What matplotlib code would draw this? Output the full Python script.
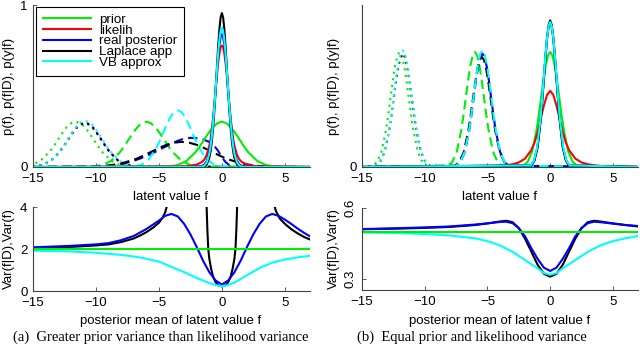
import matplotlib
matplotlib.use('Agg')
import matplotlib.pyplot as plt
import numpy as np

plt.rcParams['font.family'] = ['Liberation Sans', 'DejaVu Sans']
plt.rcParams['font.size'] = 9

nan = np.nan

# ---------------- (a) top: densities ----------------
# solid (prior centred at 0)
a_prior_x = [-15, -4.2, -3.5, -2.8, -2.1, -1.75, -1.4, -1.05, -0.7, -0.35, 0, 0.35, 0.7, 1.05, 1.4, 1.75, 2.1, 2.8, 3.5, 4.2, 7]
a_prior_y = [0, 0.003, 0.012, 0.038, 0.091, 0.128, 0.170, 0.211, 0.247, 0.271, 0.28, 0.271, 0.247, 0.211, 0.170, 0.128, 0.091, 0.038, 0.012, 0.003, 0]
a_peak_x = [-15, -3, -2.5, -2, -1.6, -1.4, -1.2, -1.0, -0.9, -0.8, -0.7, -0.6, -0.5, -0.4, -0.3, -0.2, -0.1, 0,
            0.1, 0.2, 0.3, 0.4, 0.5, 0.6, 0.7, 0.8, 0.9, 1.0, 1.2, 1.4, 1.6, 2, 2.5, 3, 7]
a_lik_y = [0, 0.003, 0.007, 0.015, 0.03, 0.045, 0.075, 0.13, 0.17, 0.23, 0.30, 0.38, 0.47, 0.56, 0.64, 0.70, 0.74, 0.75,
           0.74, 0.70, 0.64, 0.56, 0.47, 0.38, 0.30, 0.23, 0.17, 0.13, 0.075, 0.045, 0.03, 0.015, 0.007, 0.003, 0]
a_post_y = [0, 0, 0, 0.002, 0.006, 0.015, 0.036, 0.093, 0.141, 0.204, 0.283, 0.376, 0.476, 0.580, 0.675, 0.752, 0.803, 0.82,
            0.803, 0.752, 0.675, 0.580, 0.476, 0.376, 0.283, 0.204, 0.141, 0.093, 0.036, 0.015, 0.006, 0.002, 0, 0, 0]
a_lap_y = [0, 0, 0, 0, 0.001, 0.004, 0.016, 0.056, 0.096, 0.156, 0.237, 0.342, 0.467, 0.604, 0.736, 0.848, 0.923, 0.95,
           0.923, 0.848, 0.736, 0.604, 0.467, 0.342, 0.237, 0.156, 0.096, 0.056, 0.016, 0.004, 0.001, 0, 0, 0, 0]
a_vb_y = [0, 0, 0, 0, 0.002, 0.008, 0.028, 0.081, 0.126, 0.189, 0.270, 0.367, 0.476, 0.589, 0.695, 0.783, 0.840, 0.86,
          0.840, 0.783, 0.695, 0.589, 0.476, 0.367, 0.270, 0.189, 0.126, 0.081, 0.028, 0.008, 0.002, 0, 0, 0, 0]

# dashed (prior centred at -6)
a_prior2_x = [-15, -10.2, -9.5, -8.8, -8.1, -7.75, -7.4, -7.05, -6.7, -6.35, -6, -5.65, -5.3, -4.95, -4.6, -4.25, -3.9, -3.2, -2.5, -1.8, 7]
a_post2_x = [-15, -10, -9, -8, -7.5, -7, -6.5, -6, -5.5, -5, -4.5, -4, -3.5, -3, -2.5, -2, -1.5, -1, -0.6, -0.3, 0, 0.3, 0.6, 1, 7]
a_post2_y = [0, 0.003, 0.008, 0.018, 0.027, 0.038, 0.052, 0.068, 0.085, 0.105, 0.125, 0.145, 0.162, 0.175, 0.18, 0.178,
             0.17, 0.155, 0.13, 0.10, 0.06, 0.03, 0.01, 0.002, 0]
a_lap2_x = [-15, -10.4, -9.2, -8.0, -6.8, -6.2, -5.6, -5.0, -4.4, -3.8, -3.2, -2.6, -2.0, -1.4, -0.8, -0.2, 0.4, 1.6, 2.8, 4.0, 7]
a_lap2_y = [0, 0.002, 0.007, 0.021, 0.050, 0.071, 0.094, 0.117, 0.137, 0.150, 0.155, 0.150, 0.137, 0.117, 0.094, 0.071, 0.050, 0.021, 0.007, 0.002, 0]
a_vb2_x = [-15, -6.95, -6.38, -5.8, -5.23, -4.94, -4.65, -4.36, -4.08, -3.79, -3.5, -3.21, -2.92, -2.64, -2.35, -2.06, -1.77, -1.2, -0.62, -0.05, 7]
a_vb2_y = [0, 0.004, 0.015, 0.047, 0.114, 0.160, 0.212, 0.264, 0.309, 0.339, 0.35, 0.339, 0.309, 0.264, 0.212, 0.160, 0.114, 0.047, 0.015, 0.004, 0]

# dotted (prior centred at -12)
a_prior3_x = [-15.83, -15.13, -14.42, -13.72, -13.36, -13.01, -12.66, -12.31, -11.95, -11.6, -11.25, -10.89, -10.54, -10.19, -9.84, -9.48, -8.78, -8.07, -7.37, 7]
a_prior3_y = [0.003, 0.012, 0.038, 0.091, 0.128, 0.170, 0.211, 0.247, 0.271, 0.28, 0.271, 0.247, 0.211, 0.170, 0.128, 0.091, 0.038, 0.012, 0.003, 0]
a_lap3_x = [-15, -14.28, -13.6, -12.93, -12.59, -12.25, -11.91, -11.58, -11.24, -10.9, -10.56, -10.22, -9.89, -9.55, -9.21, -8.87, -8.2, -7.52, -6.85, 7]
a_lap3_y = [0.003, 0.012, 0.036, 0.088, 0.124, 0.164, 0.204, 0.238, 0.262, 0.27, 0.262, 0.238, 0.204, 0.164, 0.124, 0.088, 0.036, 0.012, 0.003, 0]
a_post3_y = [0.003, 0.012, 0.037, 0.089, 0.126, 0.167, 0.208, 0.243, 0.266, 0.275, 0.266, 0.243, 0.208, 0.167, 0.126, 0.089, 0.037, 0.012, 0.003, 0]
a_vb3_x = [-15, -14.23, -13.55, -12.88, -12.54, -12.2, -11.86, -11.53, -11.19, -10.85, -10.51, -10.17, -9.84, -9.5, -9.16, -8.82, -8.15, -7.47, -6.8, 7]
a_vb3_y = [0.003, 0.013, 0.038, 0.093, 0.131, 0.173, 0.215, 0.251, 0.276, 0.285, 0.276, 0.251, 0.215, 0.173, 0.131, 0.093, 0.038, 0.013, 0.003, 0]

# ---------------- (a) bottom: variances ----------------
a_var_x = [-15, -12, -10, -9, -8, -7, -6, -5, -4.5, -4, -3.5, -3, -2.5, -2, -1.5, -1, -0.5, 0,
           0.5, 1, 1.5, 2, 2.5, 3, 3.5, 4, 4.5, 5, 5.5, 6, 6.5, 7]
a_var_post = [2.08, 2.15, 2.22, 2.28, 2.42, 2.62, 2.95, 3.35, 3.58, 3.67, 3.55, 3.2, 2.7, 2.1, 1.45, 0.9, 0.5, 0.31,
              0.5, 0.9, 1.45, 2.1, 2.7, 3.2, 3.55, 3.67, 3.58, 3.4, 3.2, 2.98, 2.78, 2.6]
a_var_lap_x = [-15, -12, -10, -9, -8, -7, -6.5, -6, -5.5, -5, -4.7, -4.5, -4.25, nan,
               -1.25, -1.21, -1.15, -1.08, -1.0, -0.85, -0.69, -0.5, -0.3, 0, 0.3, 0.5, 0.69, 0.85, 1.0, 1.08, 1.15, 1.21, 1.25, nan,
               4.05, 4.3, 4.6, 5, 5.5, 6, 6.5, 7]
a_var_lap = [2.05, 2.1, 2.17, 2.22, 2.33, 2.5, 2.64, 2.8, 3.0, 3.25, 3.5, 3.75, 4.3, nan,
             5.0, 4.0, 2.9, 2.0, 1.55, 1.05, 0.67, 0.42, 0.28, 0.22, 0.28, 0.42, 0.67, 1.05, 1.55, 2.0, 2.9, 4.0, 5.0, nan,
             4.3, 3.8, 3.45, 3.2, 2.95, 2.75, 2.58, 2.45]
a_var_vb_x = [-15, -12, -10, -8, -6.5, -5, -4, -3, -2, -1, -0.5, 0, 0.5, 1, 2, 3, 4, 5, 6, 7]
a_var_vb = [1.92, 1.88, 1.82, 1.72, 1.6, 1.4, 1.15, 0.9, 0.62, 0.38, 0.28, 0.23, 0.28, 0.4, 0.75, 1.1, 1.35, 1.5, 1.6, 1.68]
a_var_prior_x = [-15, 7]
a_var_prior = [2, 2]

# ---------------- (b) top: densities ----------------
b_prior_x = [-15, -2.16, -1.8, -1.44, -1.08, -0.9, -0.72, -0.54, -0.36, -0.18, 0, 0.18, 0.36, 0.54, 0.72, 0.9, 1.08, 1.44, 1.8, 2.16, 7]
b_prior_y = [0, 0.008, 0.031, 0.096, 0.231, 0.325, 0.431, 0.536, 0.626, 0.688, 0.71, 0.688, 0.626, 0.536, 0.431, 0.325, 0.231, 0.096, 0.031, 0.008, 0]
b_lik_x = [-15, -8, -6, -5, -4, -3.5, -3, -2.5, -2, -1.5, -1.25, -1, -0.75, -0.5, -0.25, 0,
           0.25, 0.5, 0.75, 1, 1.25, 1.5, 2, 2.5, 3, 3.5, 4, 5, 6, 7]
b_lik_y = [0, 0.001, 0.0015, 0.003, 0.007, 0.011, 0.017, 0.028, 0.052, 0.105, 0.15, 0.215, 0.30, 0.38, 0.445, 0.47,
           0.445, 0.38, 0.30, 0.215, 0.15, 0.105, 0.052, 0.028, 0.017, 0.011, 0.007, 0.003, 0.0015, 0.001]
b_post_x = [-15, -1.53, -1.28, -1.02, -0.77, -0.64, -0.51, -0.38, -0.26, -0.13, 0, 0.13, 0.26, 0.38, 0.51, 0.64, 0.77, 1.02, 1.28, 1.53, 7]
b_post_y = [0, 0.010, 0.039, 0.120, 0.289, 0.408, 0.540, 0.672, 0.785, 0.862, 0.89, 0.862, 0.785, 0.672, 0.540, 0.408, 0.289, 0.120, 0.039, 0.010, 0]
b_lap_x = [-15, -1.5, -1.25, -1.0, -0.75, -0.625, -0.5, -0.375, -0.25, -0.125, 0, 0.125, 0.25, 0.375, 0.5, 0.625, 0.75, 1.0, 1.25, 1.5, 7]
b_lap_y = [0, 0.010, 0.040, 0.122, 0.294, 0.414, 0.549, 0.683, 0.798, 0.877, 0.905, 0.877, 0.798, 0.683, 0.549, 0.414, 0.294, 0.122, 0.040, 0.010, 0]
b_vb_x = [-15, -1.56, -1.3, -1.04, -0.78, -0.65, -0.52, -0.39, -0.26, -0.13, 0, 0.13, 0.26, 0.39, 0.52, 0.65, 0.78, 1.04, 1.3, 1.56, 7]
b_vb_y = [0, 0.010, 0.039, 0.121, 0.291, 0.410, 0.543, 0.676, 0.789, 0.867, 0.895, 0.867, 0.789, 0.676, 0.543, 0.410, 0.291, 0.121, 0.039, 0.010, 0]

b_prior2_x = [-15, -8.16, -7.8, -7.44, -7.08, -6.9, -6.72, -6.54, -6.36, -6.18, -6.0, -5.82, -5.64, -5.46, -5.28, -5.1, -4.92, -4.56, -4.2, -3.84, 7]
b_lap2_x = [-15, -7.61, -7.25, -6.89, -6.53, -6.35, -6.17, -5.99, -5.81, -5.63, -5.45, -5.27, -5.09, -4.91, -4.73, -4.55, -4.37, -4.01, -3.65, -3.29, 7]
b_lap2_y = [0, 0.007, 0.030, 0.092, 0.221, 0.311, 0.413, 0.513, 0.600, 0.659, 0.68, 0.659, 0.600, 0.513, 0.413, 0.311, 0.221, 0.092, 0.030, 0.007, 0]
b_vb2_x = [-15, -7.5, -7.15, -6.8, -6.45, -6.275, -6.1, -5.925, -5.75, -5.575, -5.4, -5.225, -5.05, -4.875, -4.7, -4.525, -4.35, -4.0, -3.65, -3.3, 7]
b_vb2_y = [0, 0.008, 0.032, 0.097, 0.234, 0.330, 0.437, 0.544, 0.635, 0.698, 0.72, 0.698, 0.635, 0.544, 0.437, 0.330, 0.234, 0.097, 0.032, 0.008, 0]
b_post2_y = [0, 0.008, 0.031, 0.095, 0.228, 0.321, 0.425, 0.529, 0.617, 0.678, 0.70, 0.678, 0.617, 0.529, 0.425, 0.321, 0.228, 0.095, 0.031, 0.008, 0]

b_prior3_x = [-15, -14.16, -13.8, -13.44, -13.08, -12.9, -12.72, -12.54, -12.36, -12.18, -12, -11.82, -11.64, -11.46, -11.28, -11.1, -10.92, -10.56, -10.2, -9.84, 7]
b_vb3_x = [-15, -13.91, -13.55, -13.19, -12.83, -12.65, -12.47, -12.29, -12.11, -11.93, -11.75, -11.57, -11.39, -11.21, -11.03, -10.85, -10.67, -10.31, -9.95, -9.59, 7]

# ---------------- (b) bottom: variances ----------------
b_var_x = [-15, -12, -10, -8, -6, -5, -4, -3.5, -3, -2.5, -2, -1.5, -1, -0.5, 0, 0.5, 1, 1.5, 2, 2.5, 3, 3.5, 4, 5, 6, 7]
b_var_post = [0.511, 0.515, 0.518, 0.522, 0.53, 0.535, 0.541, 0.542, 0.536, 0.515, 0.48, 0.43, 0.385, 0.348, 0.334,
              0.348, 0.385, 0.43, 0.48, 0.515, 0.536, 0.542, 0.54, 0.534, 0.528, 0.524]
b_var_lap = [0.51, 0.513, 0.516, 0.52, 0.528, 0.535, 0.543, 0.546, 0.54, 0.515, 0.47, 0.415, 0.36, 0.322, 0.31,
             0.322, 0.36, 0.415, 0.47, 0.515, 0.54, 0.546, 0.543, 0.535, 0.528, 0.522]
b_var_vb_x = [-15, -12, -10, -8, -6, -5, -4, -3, -2, -1, -0.5, 0, 0.5, 1, 2, 3, 4, 5, 6, 7]
b_var_vb = [0.497, 0.494, 0.49, 0.484, 0.472, 0.46, 0.442, 0.415, 0.38, 0.345, 0.325, 0.318, 0.325, 0.345, 0.38,
            0.415, 0.442, 0.46, 0.472, 0.482]
b_var_prior_x = [-15, 7]
b_var_prior = [0.5, 0.5]

labels = ['prior', 'likelih', 'real posterior', 'Laplace app', 'VB approx']
G, R, B, K, C = '#00ee00', '#ff0000', '#0000ff', '#000000', '#00ffff'
LW = 1.5
DASH = (4.5, 2.5)
DOT = (1, 2.2)

fig = plt.figure(figsize=(6.4, 3.54), dpi=100)
W, H = 640.0, 354.0


def axes_px(l, t, r, b):
    return fig.add_axes([l / W, 1 - b / H, (r - l) / W, (b - t) / H])


def style(ax):
    for s in ['top', 'right']:
        ax.spines[s].set_visible(False)
    for s in ['left', 'bottom']:
        ax.spines[s].set_linewidth(0.8)
        ax.spines[s].set_color('#404040')
    ax.tick_params(direction='in', length=3, width=0.6, colors='#404040', labelcolor='black', labelsize=9.5)
    ax.tick_params(axis='x', pad=4.5)
    ax.tick_params(axis='y', pad=4)
    ax.set_xlim(-15, 7)
    ax.set_xticks([-15, -10, -5, 0, 5])
    ax.set_xticklabels(['\u221215', '\u221210', '\u22125', '0', '5'])


# ---- (a) top
ax = axes_px(33, 5, 310, 167)
style(ax)
ax.plot(a_prior3_x, a_prior3_y, color=G, lw=LW, dashes=DOT)
ax.plot(a_lap3_x, a_post3_y, color=B, lw=LW, dashes=DOT)
ax.plot(a_lap3_x, a_lap3_y, color=K, lw=LW, dashes=DOT)
ax.plot(a_vb3_x, a_vb3_y, color=C, lw=LW, dashes=DOT)
ax.plot(a_prior2_x, a_prior_y, color=G, lw=LW, dashes=DASH)
ax.plot(a_post2_x, a_post2_y, color=B, lw=LW, dashes=DASH)
ax.plot(a_lap2_x, a_lap2_y, color=K, lw=LW, dashes=DASH)
ax.plot(a_vb2_x, a_vb2_y, color=C, lw=LW, dashes=DASH)
h1, = ax.plot(a_prior_x, a_prior_y, color=G, lw=LW)
h2, = ax.plot(a_peak_x, a_lik_y, color=R, lw=LW)
h3, = ax.plot(a_peak_x, a_post_y, color=B, lw=LW)
h4, = ax.plot(a_peak_x, a_lap_y, color=K, lw=LW)
h5, = ax.plot(a_peak_x, a_vb_y, color=C, lw=LW)
ax.set_ylim(0, 1)
ax.set_yticks([0, 1])
leg = ax.legend([h1, h2, h3, h4, h5], labels, loc='upper left', bbox_to_anchor=(36 / W, 1 - 7 / H),
                bbox_transform=fig.transFigure, fontsize=9.6, handlelength=3.6, handletextpad=0.6,
                labelspacing=-0.12, borderpad=0.5, borderaxespad=0, fancybox=False, framealpha=1)
leg.get_frame().set_edgecolor('black')
leg.get_frame().set_linewidth(0.8)

# ---- (a) bottom
ax = axes_px(33, 207, 310, 291)
style(ax)
ax.plot(a_var_lap_x, a_var_lap, color=K, lw=LW)
ax.plot(a_var_x, a_var_post, color=B, lw=LW)
ax.plot(a_var_vb_x, a_var_vb, color=C, lw=LW)
ax.plot(a_var_prior_x, a_var_prior, color=G, lw=LW)
ax.set_ylim(0, 4)
ax.set_yticks([0, 2, 4])

# ---- (b) top
ax = axes_px(362, 5, 638, 167)
style(ax)
ax.plot(b_prior3_x, b_prior_y, color=G, lw=LW, dashes=DOT)
ax.plot(b_vb3_x, b_post2_y, color=K, lw=LW, dashes=DOT)
ax.plot(b_vb3_x, b_vb2_y, color=C, lw=LW, dashes=DOT)
ax.plot(b_prior2_x, b_prior_y, color=G, lw=LW, dashes=DASH)
ax.plot(b_vb2_x, b_post2_y, color=B, lw=LW, dashes=DASH)
ax.plot(b_lap2_x, b_lap2_y, color=K, lw=LW, dashes=DASH)
ax.plot(b_vb2_x, b_vb2_y, color=C, lw=LW, dashes=DASH)
ax.plot(b_prior_x, b_prior_y, color=G, lw=LW)
ax.plot(b_lik_x, b_lik_y, color=R, lw=LW)
ax.plot(b_post_x, b_post_y, color=B, lw=LW)
ax.plot(b_lap_x, b_lap_y, color=K, lw=LW)
ax.plot(b_vb_x, b_vb_y, color=C, lw=LW)
ax.set_ylim(0, 1)
ax.set_yticks([0])

# ---- (b) bottom
ax = axes_px(362, 208, 638, 290)
style(ax)
ax.plot(b_var_x, b_var_lap, color=K, lw=LW)
ax.plot(b_var_x, b_var_post, color=B, lw=LW)
ax.plot(b_var_vb_x, b_var_vb, color=C, lw=LW)
ax.plot(b_var_prior_x, b_var_prior, color=G, lw=LW)
ax.set_ylim(0.6 - 82 / 236.7, 0.6)
ax.set_yticks([0.3, 0.6])
ax.set_yticklabels(['0.3', '0.6'], rotation=90, va='center')

# axis labels and captions
for cx in [171, 500]:
    fig.text(cx / W, 1 - 197 / H, 'latent value f', ha='center', va='center', fontsize=9.5)
    fig.text(cx / W, 1 - 321 / H, 'posterior mean of latent value f', ha='center', va='center', fontsize=9.5)
for lx in [9, 334]:
    fig.text(lx / W, 1 - 86 / H, 'p(f), p(f|D), p(y|f)', rotation=90, ha='center', va='center', fontsize=9.5)
    fig.text(lx / W, 1 - 249 / H, 'Var(f|D),Var(f)', rotation=90, ha='center', va='center', fontsize=9.5)
fig.text(161 / W, 1 - 337 / H, '(a)  Greater prior variance than likelihood variance', ha='center', va='center',
         fontsize=10.5, family=['Liberation Serif', 'DejaVu Serif'])
fig.text(472 / W, 1 - 337 / H, '(b)  Equal prior and likelihood variance', ha='center', va='center',
         fontsize=10.5, family=['Liberation Serif', 'DejaVu Serif'])

fig.savefig('out.png', dpi=100)
